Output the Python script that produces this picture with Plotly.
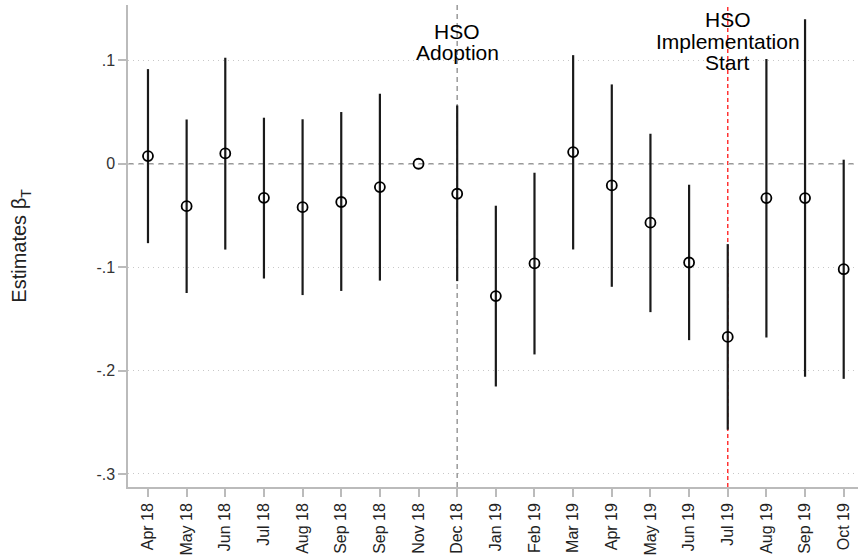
import plotly.graph_objects as go

months = ['Apr 18', 'May 18', 'Jun 18', 'Jul 18', 'Aug 18', 'Sep 18', 'Sep 18',
          'Nov 18', 'Dec 18', 'Jan 19', 'Feb 19', 'Mar 19', 'Apr 19', 'May 19',
          'Jun 19', 'Jul 19', 'Aug 19', 'Sep 19', 'Oct 19']
estimate = [0.0074, -0.041, 0.010, -0.033, -0.042, -0.037, -0.0226,
            0.0, -0.029, -0.128, -0.0964, 0.0113, -0.021, -0.057,
            -0.0955, -0.1675, -0.0332, -0.0332, -0.102]
ci_upper = [0.0915, 0.0428, 0.1025, 0.0445, 0.043, 0.050, 0.0677,
            0.0, 0.0564, -0.0406, -0.0087, 0.105, 0.0767, 0.029,
            -0.0203, -0.0777, 0.1012, 0.1397, 0.0039]
ci_lower = [-0.0768, -0.125, -0.083, -0.111, -0.127, -0.123, -0.113,
            0.0, -0.1135, -0.2154, -0.1844, -0.0829, -0.119, -0.1435,
            -0.1706, -0.2572, -0.168, -0.206, -0.208]
y_ticks = [-0.3, -0.2, -0.1, 0, 0.1]
y_labels = ['-.3', '-.2', '-.1', '0', '.1']
adoption_idx = 8
implementation_idx = 15
adoption_text = ['HSO', 'Adoption']
implementation_text = ['HSO', 'Implementation', 'Start']

xs = list(range(len(months)))

fig = go.Figure()

fig.add_trace(go.Scatter(
    x=xs,
    y=estimate,
    mode='markers',
    marker=dict(symbol='circle-open', size=10, color='black',
                line=dict(width=1.8, color='black')),
    error_y=dict(
        type='data',
        symmetric=False,
        array=[u - e for u, e in zip(ci_upper, estimate)],
        arrayminus=[e - l for e, l in zip(estimate, ci_lower)],
        width=0,
        thickness=2.2,
        color='#1a1a1a',
    ),
    showlegend=False,
))

fig.add_shape(type='line', xref='paper', yref='y', x0=0, x1=1, y0=0, y1=0,
              line=dict(color='#999999', width=1.5, dash='6px,4px'), layer='below')
fig.add_shape(type='line', xref='x', yref='paper', x0=adoption_idx, x1=adoption_idx,
              y0=0, y1=1, line=dict(color='#999999', width=1.5, dash='5px,4px'), layer='below')
fig.add_shape(type='line', xref='x', yref='paper', x0=implementation_idx, x1=implementation_idx,
              y0=0, y1=1, line=dict(color='#ff3333', width=1.5, dash='4px,3px'), layer='below')

# one annotation per line so the line spacing stays tight like the original
label_font = dict(family='Liberation Sans, Arial', size=21, color='black')
for i, line in enumerate(adoption_text):
    fig.add_annotation(x=adoption_idx, y=0.946 - i * 0.045, xref='x', yref='paper',
                       yanchor='middle', text=line, showarrow=False, font=label_font)
for i, line in enumerate(implementation_text):
    fig.add_annotation(x=implementation_idx, y=0.969 - i * 0.044, xref='x', yref='paper',
                       yanchor='middle', text=line, showarrow=False, font=label_font)

fig.update_layout(
    width=858,
    height=557,
    margin=dict(l=128, r=0, t=5, b=70),
    plot_bgcolor='white',
    paper_bgcolor='white',
    font=dict(family='Liberation Sans, Arial', color='#333333'),
    xaxis=dict(
        range=[-0.517, 18.37],
        tickmode='array',
        tickvals=xs,
        ticktext=months,
        tickangle=-90,
        tickfont=dict(size=16, color='#222222'),
        ticks='outside',
        ticklen=8,
        tickcolor='#bbbbbb',
        tickwidth=1.5,
        showgrid=False,
        zeroline=False,
        showline=True,
        linecolor='#bbbbbb',
        linewidth=1.5,
    ),
    yaxis=dict(
        range=[-0.3126, 0.1535],
        tickmode='array',
        tickvals=y_ticks,
        ticktext=y_labels,
        tickfont=dict(size=16, color='#333333'),
        ticks='outside',
        ticklen=8,
        tickcolor='#bbbbbb',
        tickwidth=1.5,
        showgrid=True,
        gridcolor='#c8c8c8',
        griddash='1px,4px',
        gridwidth=1,
        zeroline=False,
        showline=True,
        linecolor='#bbbbbb',
        linewidth=1.5,
        title=dict(text='Estimates β<sub>T</sub>', font=dict(size=20, color='#222222'),
                   standoff=64),
    ),
)

fig.write_html('out.html', config={'displayModeBar': False},
               post_script="document.body.style.margin='0px';")
